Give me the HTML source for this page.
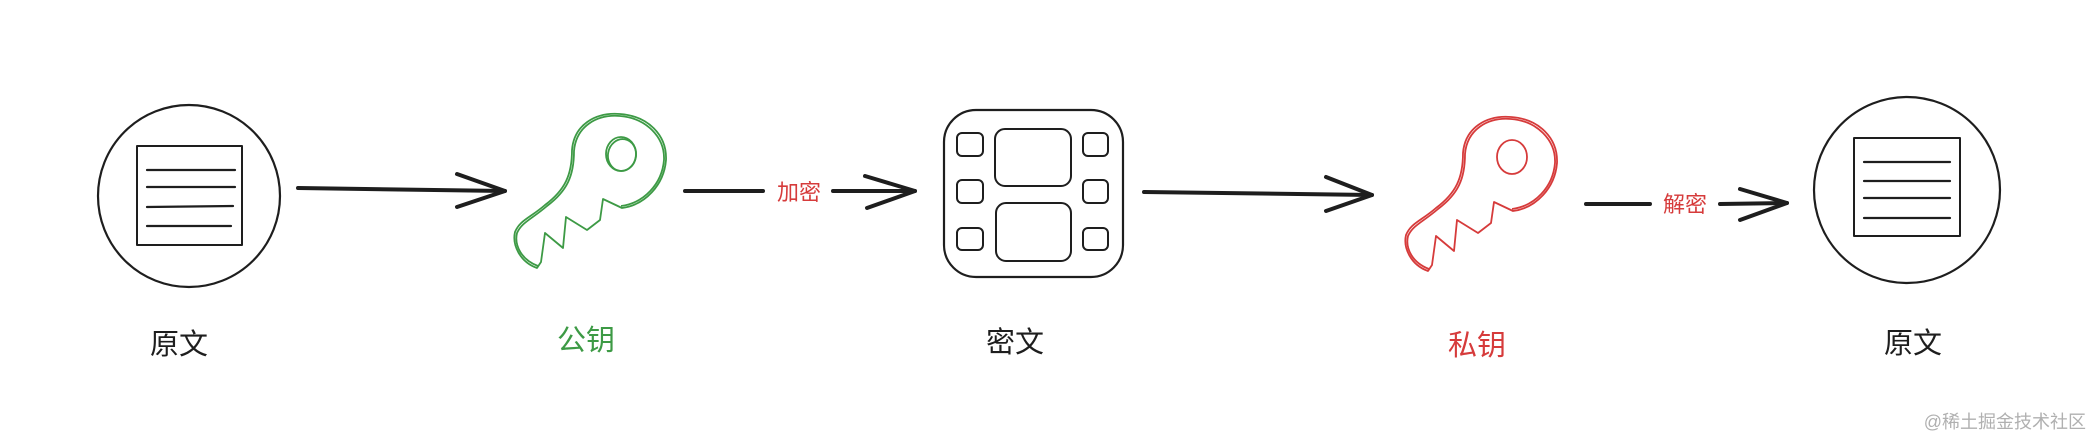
<!DOCTYPE html>
<html><head><meta charset="utf-8"><style>
html,body{margin:0;padding:0;background:#fff;}
svg{display:block;}
text{font-family:"Liberation Sans","Noto Sans CJK SC",sans-serif;}
</style></head><body>
<svg width="2094" height="438" viewBox="0 0 2094 438" xmlns="http://www.w3.org/2000/svg">
<rect width="2094" height="438" fill="#fff"/>
<g fill="none" stroke="#1e1e1e" stroke-linecap="round" stroke-linejoin="round">
  <ellipse cx="189" cy="196" rx="91" ry="91" stroke-width="2.2"/>
  <rect x="137" y="146" width="105" height="99" stroke-width="2"/>
  <g stroke-width="2.2">
    <line x1="147" y1="170" x2="235" y2="170"/>
    <line x1="147" y1="187" x2="235" y2="187"/>
    <line x1="147" y1="207" x2="233" y2="206"/>
    <line x1="147" y1="226" x2="231" y2="226"/>
  </g>
  <g stroke-width="4">
    <line x1="298" y1="188" x2="505" y2="191"/>
    <polyline points="457,174 505,191 457,207"/>
    <line x1="685" y1="191" x2="763" y2="191"/>
    <line x1="833" y1="191" x2="915" y2="191"/>
    <polyline points="865,176 915,191 867,208"/>
    <line x1="1144" y1="192" x2="1372" y2="195"/>
    <polyline points="1326,177 1372,195 1326,211"/>
    <line x1="1586" y1="204" x2="1650" y2="204"/>
    <line x1="1720" y1="204" x2="1787" y2="203"/>
    <polyline points="1740,189 1787,203 1740,220"/>
  </g>
  <rect x="944" y="110" width="179" height="167" rx="32" stroke-width="2.2"/>
  <g stroke-width="2">
    <rect x="957" y="133" width="26" height="23" rx="5"/>
    <rect x="957" y="180" width="26" height="23" rx="5"/>
    <rect x="957" y="228" width="26" height="22" rx="5"/>
    <rect x="1083" y="133" width="25" height="23" rx="5"/>
    <rect x="1083" y="180" width="25" height="23" rx="5"/>
    <rect x="1083" y="228" width="25" height="22" rx="5"/>
    <rect x="995" y="129" width="76" height="57" rx="10"/>
    <rect x="996" y="203" width="75" height="58" rx="10"/>
  </g>
  <ellipse cx="1907" cy="190" rx="93" ry="93" stroke-width="2.2"/>
  <rect x="1854" y="138" width="106" height="98" stroke-width="2"/>
  <g stroke-width="2.2">
    <line x1="1864" y1="162" x2="1950" y2="162"/>
    <line x1="1864" y1="181" x2="1950" y2="181"/>
    <line x1="1864" y1="198" x2="1950" y2="198"/>
    <line x1="1864" y1="218" x2="1950" y2="218"/>
  </g>
</g>
<g fill="none" stroke-width="1.8" stroke-linejoin="round">
  <g stroke="#3d9a45">
    <path d="M537,268 C520,262 512,245 515,232 C520,220 530,218 545,205 C565,190 572,175 572,150 C574,125 595,112 620,114 C648,116 667,135 666,160 C664,185 645,205 622,208 L603,199 L600,220 L587,230 L566,217 L563,248 L545,233 L541,262 Z"/>
    <path d="M538,266 C522,260 514,246 517,233 C522,222 532,219 547,206 C567,191 574,176 574,151 C576,127 596,114 620,116 C646,118 665,137 664,160 C662,184 644,203 621,206"/>
    <ellipse cx="621" cy="154" rx="15" ry="17"/>
    <ellipse cx="622" cy="155" rx="14" ry="16" transform="rotate(10 622 155)"/>
  </g>
  <g stroke="#d63b3b" transform="translate(891,3)">
    <path d="M537,268 C520,262 512,245 515,232 C520,220 530,218 545,205 C565,190 572,175 572,150 C574,125 595,112 620,114 C648,116 667,135 666,160 C664,185 645,205 622,208 L603,199 L600,220 L587,230 L566,217 L563,248 L545,233 L541,262 Z"/>
    <path d="M538,266 C522,260 514,246 517,233 C522,222 532,219 547,206 C567,191 574,176 574,151 C576,127 596,114 620,116 C646,118 665,137 664,160 C662,184 644,203 621,206"/>
    <ellipse cx="621" cy="154" rx="15" ry="17"/>
  </g>
</g>
<g font-size="29" text-anchor="middle">
  <text x="179" y="354" fill="#1e1e1e">原文</text>
  <text x="586" y="350" fill="#3d9a45">公钥</text>
  <text x="1015" y="352" fill="#1e1e1e">密文</text>
  <text x="1477" y="355" fill="#d63b3b">私钥</text>
  <text x="1913" y="353" fill="#1e1e1e">原文</text>
</g>
<g font-size="22" text-anchor="middle" fill="#d63b3b">
  <text x="799" y="200">加密</text>
  <text x="1685" y="212">解密</text>
</g>
<text x="2086" y="428" font-size="18" text-anchor="end" fill="#b0b0b0">@稀土掘金技术社区</text>
</svg>
</body></html>
